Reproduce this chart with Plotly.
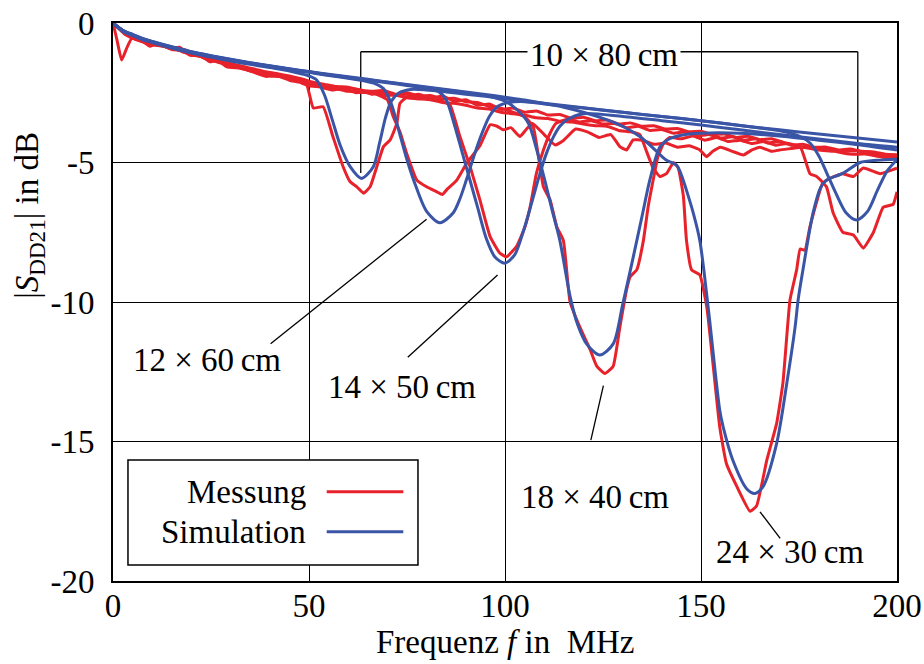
import plotly.graph_objects as go

# --- differential insertion loss |S_DD21| of the five slot geometries -------------

# measured curves (frequency in MHz, level in dB)
meas_80_f = [0, 1, 2.2, 3.5, 4.8, 7.7, 9.4, 11.1, 14.5, 17, 19.6, 22.2, 24.7, 26.5, 29, 32.4, 34.1,
             39.2, 40.9, 44.3, 47.7, 49.4, 51.1, 53.6, 56.1, 58.7, 60.5, 62.2, 63.9, 65.6, 67.3, 69,
             70.7, 72.4, 73.2, 75, 78, 81, 84, 87, 90, 93, 96, 99, 102, 105, 108, 111, 114, 117, 120,
             123, 126, 129, 132, 135, 138, 141, 144, 147, 150, 153, 156, 159, 162, 165, 168, 171,
             175.3, 177.8, 179.5, 182, 183.7, 186.2, 188.9, 191.4, 194, 196.5, 199, 200]
meas_80_db = [0, -0.6, -1.33, -0.9, -0.55, -0.67, -0.83, -0.73, -0.91, -0.87, -1.15, -1.15, -1.39,
              -1.33, -1.57, -1.62, -1.68, -1.92, -1.86, -1.98, -2.1, -2.2, -3.05, -3.0, -4.07, -5.15,
              -5.69, -5.87, -6.1, -5.87, -5.15, -4.43, -4.19, -3.6, -2.88, -2.65, -2.55, -2.7, -2.62,
              -2.8, -2.75, -2.95, -2.9, -3.1, -3.05, -3.2, -3.15, -3.3, -3.28, -3.42, -3.38, -3.5,
              -3.48, -3.62, -3.58, -3.7, -3.68, -3.8, -3.78, -3.9, -3.88, -4.0, -3.98, -4.1, -4.06,
              -4.18, -4.15, -4.28, -4.43, -5.4, -5.5, -5.87, -6.8, -7.5, -7.6, -8.07, -7.5, -6.6,
              -6.5, -6.05]

meas_60_f = [0, 2.5, 5, 7.5, 10, 12.5, 15, 17.5, 20, 22.5, 25, 27.5, 30, 32.5, 35, 37.5, 40, 42.5, 45,
             47.5, 50, 53, 56, 59, 62, 65, 68, 70, 71.5, 73.2, 74.9, 77.5, 80, 82.6, 84, 85.1, 87.7,
             90.2, 93.6, 96.2, 98, 99.6, 101.5, 103.8, 105.5, 107, 110, 112.8, 115, 118, 121, 124,
             127, 129.3, 131, 132.7, 135, 138, 141, 144, 147, 149.7, 151.4, 153, 155, 158, 160.8,
             163, 165, 168, 170, 173, 176, 180, 184, 188, 192, 196, 200]
meas_60_db = [0, -0.3, -0.5, -0.62, -0.78, -0.8, -0.95, -0.98, -1.15, -1.2, -1.35, -1.4, -1.55, -1.6,
              -1.72, -1.78, -1.9, -1.92, -2.05, -2.12, -2.25, -2.3, -2.4, -2.35, -2.5, -2.45, -2.6,
              -2.75, -3.36, -3.9, -4.67, -5.63, -5.87, -6.05, -6.15, -5.98, -5.63, -5.03, -4.4,
              -3.65, -3.7, -3.83, -3.75, -4.07, -3.8, -3.6, -4.0, -4.37, -4.2, -3.8, -3.9, -4.1, -4.0,
              -4.43, -4.55, -4.19, -4.2, -4.35, -4.3, -4.45, -4.4, -4.55, -4.79, -4.6, -4.45, -4.6,
              -4.73, -4.55, -4.45, -4.6, -4.55, -4.5, -4.45, -4.55, -4.6, -4.7, -4.7, -4.8, -4.85]

meas_50_f = [0, 3, 6, 9, 12, 15, 18, 21, 24, 27, 30, 33, 36, 39, 42, 45, 48, 51, 54, 57, 60, 63, 66,
             69, 72, 75, 78, 81, 84, 86, 88.5, 91.1, 93.6, 96.2, 98.7, 100.4, 103, 105.1, 106.4, 108,
             109.8, 111.5, 113, 116, 119, 122, 125, 128, 131, 134, 137, 140, 143, 146, 149, 152, 155,
             158, 161, 164, 167, 170, 173, 176, 179, 182, 185, 188, 191, 194, 197, 200]
meas_50_db = [0, -0.35, -0.55, -0.7, -0.8, -0.9, -1.0, -1.12, -1.3, -1.38, -1.5, -1.58, -1.7, -1.8,
              -1.85, -1.95, -2.05, -2.2, -2.28, -2.35, -2.45, -2.4, -2.55, -2.5, -2.6, -2.55, -2.7,
              -2.65, -2.8, -2.95, -4.07, -5.15, -6.34, -7.66, -8.25, -8.38, -8.0, -7.3, -6.6, -5.4,
              -4.55, -3.95, -3.6, -3.45, -3.55, -3.5, -3.62, -3.6, -3.75, -3.7, -3.85, -3.82, -3.95,
              -3.9, -4.05, -4.0, -4.12, -4.08, -4.2, -4.15, -4.3, -4.25, -4.38, -4.35, -4.45, -4.45,
              -4.55, -4.52, -4.6, -4.62, -4.7, -4.72]

meas_40_f = [0, 3, 6, 9, 12, 15, 18, 21, 24, 27, 30, 33, 36, 39, 42, 45, 48, 51, 54, 57, 60, 63, 66,
             69, 72, 75, 78, 81, 84, 87, 90, 93, 96, 99, 102, 105, 107.2, 109.8, 111.5, 113.2, 114.9,
             116.6, 119.1, 121.7, 123.4, 125.5, 127.6, 129.3, 131, 131.9, 133.6, 135.3, 136.5, 137.8,
             139, 140.5, 142, 145, 148, 151, 154, 157, 160, 163, 166, 169, 172, 175, 178, 181, 184,
             187, 190, 193, 196, 200]
meas_40_db = [0, -0.4, -0.6, -0.72, -0.78, -0.92, -0.95, -1.1, -1.22, -1.35, -1.45, -1.55, -1.65,
              -1.75, -1.82, -1.9, -2.0, -2.12, -2.2, -2.28, -2.3, -2.4, -2.45, -2.42, -2.55, -2.5,
              -2.62, -2.6, -2.72, -2.7, -2.82, -2.85, -3.0, -3.05, -3.2, -3.35, -3.72, -5.87, -6.34,
              -7.3, -7.8, -10.0, -10.9, -11.7, -12.3, -12.56, -12.3, -10.9, -9.57, -9.1, -8.85, -7.8,
              -6.6, -5.63, -4.8, -4.3, -4.1, -4.15, -4.05, -4.2, -4.1, -4.25, -4.2, -4.32, -4.25,
              -4.38, -4.32, -4.45, -4.45, -4.5, -4.55, -4.6, -4.58, -4.7, -4.72, -4.8]

meas_30_f = [0, 3, 6, 9, 12, 15, 18, 21, 24, 27, 30, 33, 36, 39, 42, 45, 48, 51, 54, 57, 60, 63, 66,
             69, 72, 75, 78, 81, 84, 87, 90, 93, 96, 99, 102, 105, 108, 111, 114, 117, 120, 123, 126,
             129, 132, 134.4, 136.1, 137.8, 139.5, 141.2, 143, 144.2, 145.5, 146.3, 147.6, 149.7,
             151.5, 153.2, 154.8, 156.5, 159.1, 162.5, 164.2, 166.8, 169.3, 170.9, 172.7, 174.4,
             175.3, 176.5, 177.8, 181, 182.5, 186, 188.9, 191.4, 195.7, 198, 200]
meas_30_db = [0, -0.38, -0.58, -0.75, -0.82, -0.88, -1.05, -1.15, -1.25, -1.42, -1.48, -1.62, -1.68,
              -1.85, -1.88, -2.0, -2.08, -2.18, -2.32, -2.3, -2.42, -2.48, -2.5, -2.6, -2.58, -2.68,
              -2.72, -2.75, -2.85, -2.88, -2.95, -3.05, -3.08, -3.2, -3.25, -3.3, -3.4, -3.42, -3.52,
              -3.55, -3.62, -3.68, -3.7, -3.85, -3.9, -4.0, -4.6, -5.2, -5.5, -5.4, -5.0, -5.2, -6.2,
              -7.8, -8.85, -9.03, -10.2, -12.4, -14.5, -15.8, -16.6, -17.5, -17.3, -15.66, -14.35,
              -12.9, -9.93, -8.85, -8.1, -8.15, -7.3, -5.75, -5.6, -5.4, -5.5, -5.2, -5.4, -5.3, -5.2]

# simulated curves
sim_80_f = [0, 2.5, 5, 7.5, 10, 15, 20, 25, 30, 35, 40, 45, 48, 50, 52, 54, 56, 58, 60.5, 63.4, 66.4,
            68, 69.5, 71, 73, 76, 80, 85, 90, 95, 100, 110, 120, 130, 140, 150, 160, 168, 172, 175,
            177.8, 180, 182, 184.4, 187, 189.7, 192.5, 195, 197.5, 200]
sim_80_db = [0, -0.3, -0.45, -0.6, -0.7, -0.9, -1.08, -1.22, -1.36, -1.48, -1.6, -1.72, -1.82, -1.9,
             -2.05, -2.6, -3.5, -4.4, -5.15, -5.57, -5.15, -4.3, -3.4, -2.8, -2.5, -2.38, -2.4, -2.47,
             -2.55, -2.63, -2.72, -2.88, -3.04, -3.2, -3.35, -3.5, -3.67, -3.82, -3.92, -4.05, -4.3,
             -4.75, -5.35, -6.1, -6.8, -7.06, -6.75, -6.0, -5.3, -4.9]

sim_60_f = [0, 2.5, 5, 7.5, 10, 15, 20, 25, 30, 35, 40, 45, 50, 55, 60, 64, 67, 69, 71, 73, 75, 77, 80,
            83.4, 86.8, 88.5, 90.2, 92, 94, 96, 98, 101, 105, 110, 120, 130, 140, 150, 160, 170, 180,
            190, 200]
sim_60_db = [0, -0.28, -0.44, -0.58, -0.69, -0.88, -1.06, -1.2, -1.33, -1.45, -1.56, -1.67, -1.77,
             -1.88, -1.98, -2.07, -2.18, -2.35, -2.9, -3.9, -4.9, -5.75, -6.75, -7.16, -6.8, -6.3,
             -5.6, -4.8, -4.0, -3.35, -3.0, -2.85, -2.82, -2.9, -3.05, -3.2, -3.35, -3.5, -3.67, -3.83,
             -3.98, -4.12, -4.27]

sim_50_f = [0, 2.5, 5, 7.5, 10, 15, 20, 25, 30, 35, 40, 45, 50, 55, 60, 65, 70, 75, 80, 83, 85, 87, 89,
            91, 93, 95.3, 97.5, 100, 102.5, 104.6, 106.5, 108.9, 110.5, 112.3, 114, 116, 120, 130,
            140, 150, 160, 170, 180, 190, 200]
sim_50_db = [0, -0.27, -0.43, -0.57, -0.68, -0.87, -1.05, -1.19, -1.32, -1.44, -1.55, -1.66, -1.76,
             -1.86, -1.96, -2.05, -2.14, -2.24, -2.34, -2.45, -2.75, -3.6, -4.6, -5.6, -6.6, -7.75,
             -8.4, -8.61, -8.3, -7.5, -6.6, -5.4, -4.7, -4.1, -3.7, -3.45, -3.25, -3.35, -3.5, -3.66,
             -3.83, -4.0, -4.16, -4.32, -4.45]

sim_40_f = [0, 2.5, 5, 7.5, 10, 15, 20, 25, 30, 35, 40, 45, 50, 55, 60, 65, 70, 75, 80, 85, 90, 95,
            100, 103, 106, 108, 110, 112, 114, 116.6, 118.5, 120.8, 124.2, 127.6, 130, 132.7, 135,
            137, 139.5, 142, 145, 150, 160, 170, 180, 190, 200]
sim_40_db = [0, -0.27, -0.42, -0.56, -0.67, -0.86, -1.04, -1.18, -1.31, -1.43, -1.54, -1.65, -1.75,
             -1.85, -1.94, -2.03, -2.12, -2.22, -2.31, -2.4, -2.49, -2.6, -2.8, -3.1, -3.6, -4.5,
             -5.55, -6.7, -7.8, -9.8, -10.8, -11.5, -11.9, -11.5, -10.1, -8.4, -6.9, -5.6, -4.45,
             -4.15, -4.02, -3.95, -3.95, -4.05, -4.2, -4.36, -4.55]

sim_30_f = [0, 2.5, 5, 7.5, 10, 15, 20, 25, 30, 35, 40, 45, 50, 55, 60, 65, 70, 75, 80, 85, 90, 95,
            100, 105, 110, 115, 120, 125, 130, 134.4, 138.7, 141, 143.8, 145, 146.3, 148, 149.7, 152,
            154.8, 155.7, 158.2, 161.7, 163.8, 165.9, 169.3, 171.9, 174, 174.8, 176, 178.6, 180.5,
            182, 186, 190.6, 195, 200]
sim_30_db = [0, -0.26, -0.41, -0.55, -0.66, -0.85, -1.03, -1.17, -1.3, -1.42, -1.53, -1.64, -1.74,
             -1.84, -1.93, -2.02, -2.11, -2.2, -2.29, -2.38, -2.47, -2.56, -2.66, -2.76, -2.88,
             -3.02, -3.2, -3.42, -3.7, -4.07, -4.6, -4.9, -5.1, -5.45, -6.0, -6.8, -7.8, -10.4,
             -13.9, -14.5, -15.7, -16.7, -16.86, -16.6, -15.07, -12.9, -10.9, -9.9, -8.85, -6.8,
             -5.9, -5.63, -5.4, -5.0, -4.92, -4.88]

measured = [(meas_80_f, meas_80_db), (meas_60_f, meas_60_db), (meas_50_f, meas_50_db),
            (meas_40_f, meas_40_db), (meas_30_f, meas_30_db)]
simulated = [(sim_80_f, sim_80_db), (sim_60_f, sim_60_db), (sim_50_f, sim_50_db),
             (sim_40_f, sim_40_db), (sim_30_f, sim_30_db)]

x_ticks = [0, 50, 100, 150, 200]
x_tick_text = ["0", "50", "100", "150", "200"]
y_ticks = [0, -5, -10, -15, -20]
y_tick_text = ["0", "-5", "-10", "-15", "-20"]

legend_names = ["Messung", "Simulation"]
slot_labels = ["10 × 80\u2009cm", "12 × 60\u2009cm", "14 × 50\u2009cm", "18 × 40\u2009cm", "24 × 30\u2009cm"]

RED = "#E8222B"
BLUE = "#3A55A6"
FONT = "Liberation Serif, Times New Roman, DejaVu Serif, serif"
FS = 33

fig = go.Figure()
for f, db in measured:
    fig.add_trace(go.Scatter(x=f, y=db, mode="lines", showlegend=False,
                             line=dict(color=RED, width=3, shape="spline", smoothing=0.4)))
for f, db in simulated:
    fig.add_trace(go.Scatter(x=f, y=db, mode="lines", showlegend=False,
                             line=dict(color=BLUE, width=3, shape="spline", smoothing=0.8)))

thin = dict(color="black", width=1.3)
shapes = []
# bracket marking both resonances of the 10 x 80 cm slot
shapes.append(dict(type="line", xref="x", yref="y", x0=63.2, x1=63.2, y0=-5.38, y1=-1.03,
                   line=thin, layer="between"))
shapes.append(dict(type="line", xref="x", yref="y", x0=63.2, x1=190, y0=-1.03, y1=-1.03,
                   line=thin, layer="between"))
shapes.append(dict(type="line", xref="x", yref="y", x0=190, x1=190, y0=-1.03, y1=-7.52,
                   line=thin, layer="between"))
# leader lines to the other resonances
leaders = [((80.0, -7.03), (40.2, -11.5)),
           ((98.1, -9.03), (75.2, -11.98)),
           ((125.1, -13.0), (121.9, -14.95)),
           ((165.05, -17.52), (170.2, -18.47))]
for (xa, ya), (xb, yb) in leaders:
    shapes.append(dict(type="line", xref="x", yref="y", x0=xa, y0=ya, x1=xb, y1=yb,
                       line=thin, layer="above"))

# legend box
shapes.append(dict(type="rect", xref="paper", yref="paper", x0=0.0191, x1=0.389, y0=0.0287,
                   y1=0.2168, line=dict(color="black", width=1.5), fillcolor="white",
                   layer="above"))
shapes.append(dict(type="line", xref="paper", yref="paper", x0=0.2726, x1=0.3703, y0=0.16,
                   y1=0.16, line=dict(color=RED, width=3), layer="above"))
shapes.append(dict(type="line", xref="paper", yref="paper", x0=0.2726, x1=0.3703, y0=0.0884,
                   y1=0.0884, line=dict(color=BLUE, width=3), layer="above"))

txt = dict(family=FONT, size=FS, color="black")
annotations = []
label_pos = [(125.3, -1.15), (24.0, -12.08), (73.7, -13.05), (123.0, -16.99), (172.7, -18.96)]
for i, (lx, ly) in enumerate(label_pos):
    ann = dict(x=lx, y=ly, xref="x", yref="y", text=slot_labels[i], showarrow=False, font=txt,
               xanchor="center", yanchor="middle")
    if i == 0:
        ann.update(bgcolor="white", borderpad=2)
    annotations.append(ann)

annotations.append(dict(x=0.2491, y=0.16, xref="paper", yref="paper", text=legend_names[0],
                        showarrow=False, font=txt, xanchor="right", yanchor="middle"))
annotations.append(dict(x=0.2491, y=0.0884, xref="paper", yref="paper", text=legend_names[1],
                        showarrow=False, font=txt, xanchor="right", yanchor="middle"))

# axis titles
annotations.append(dict(x=0.5, y=-0.11, xref="paper", yref="paper",
                        text="Frequenz <i>f</i> in  MHz", showarrow=False, font=txt,
                        xanchor="center", yanchor="middle"))
annotations.append(dict(x=-0.106, y=0.656, xref="paper", yref="paper",
                        text="|<i>S</i><sub>DD21</sub>| in dB", showarrow=False, font=txt,
                        textangle=-90, xanchor="center", yanchor="middle"))

fig.update_layout(
    width=924, height=664,
    margin=dict(l=113, r=27, t=23, b=83, autoexpand=False),
    paper_bgcolor="white", plot_bgcolor="white",
    font=txt,
    shapes=shapes, annotations=annotations,
    showlegend=False,
)
fig.update_xaxes(range=[0, 200], tickvals=x_ticks, ticktext=x_tick_text, showgrid=True,
                 gridcolor="black", gridwidth=1.3, showline=True, linecolor="black", linewidth=2,
                 mirror=True, ticks="", zeroline=False, tickfont=txt, ticklabelstandoff=-6)
fig.update_yaxes(range=[-20, 0], tickvals=y_ticks, ticktext=y_tick_text, showgrid=True,
                 gridcolor="black", gridwidth=1.3, showline=True, linecolor="black", linewidth=2,
                 mirror=True, ticks="", zeroline=False, tickfont=txt, ticklabelstandoff=10)

fig.write_html("out.html")
